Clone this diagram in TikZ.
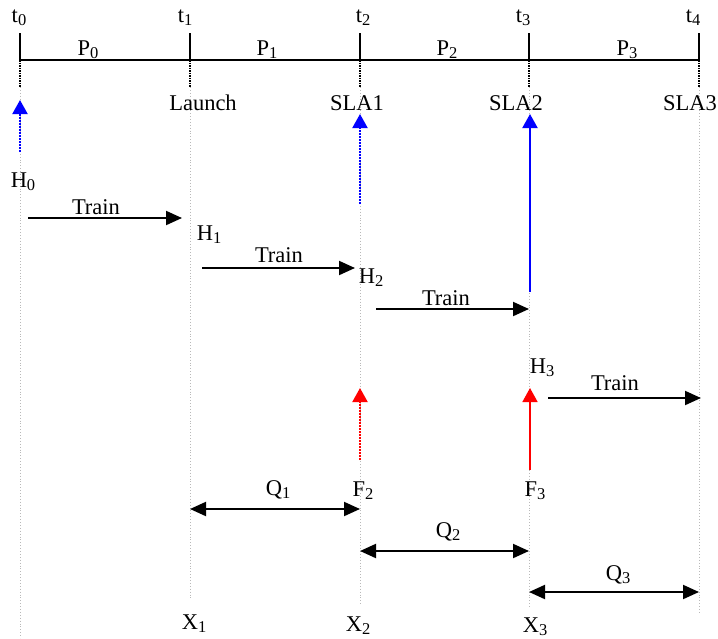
\documentclass[tikz,border=0pt]{standalone}
\usepackage{fontspec}
\setmainfont{Liberation Serif}
\usetikzlibrary{arrows.meta}
% lowered, smaller index after a label letter
\newcommand\idx[1]{\raisebox{-3pt}{\fontsize{16.5}{17}\selectfont #1}}

\begin{document}
\begin{tikzpicture}[x=1pt,y=-1pt,
  txt/.style={font=\fontsize{22.5}{25}\selectfont, inner sep=0pt},
  axis/.style={line width=2pt, black},
  guide/.style={gray!55, dotted, line width=0.9pt},
  stub/.style={black, dash pattern=on 1.5pt off 1pt, line width=1.6pt},
  bigtip/.style={-{Triangle[length=16pt,width=14pt]}},
  train/.style={bigtip, line width=2pt, black},
  span/.style={{Triangle[length=16pt,width=14pt]}-{Triangle[length=16pt,width=14pt]}, line width=2pt, black},
  coltip/.style={-{Triangle[length=14pt,width=15pt]}, line width=2pt},
  bluedot/.style={coltip, blue, dash pattern=on 2pt off 1pt},
  blueline/.style={coltip, blue},
  reddot/.style={coltip, red, dash pattern=on 2pt off 1pt},
  redline/.style={coltip, red, line width=1.6pt}
]
\useasboundingbox (0,0) rectangle (718,638);

% timeline anchor points
\coordinate (a0) at (20,60);
\coordinate (a1) at (190,60);
\coordinate (a2) at (360,60);
\coordinate (a3) at (529,60);
\coordinate (a4) at (699,60);
\coordinate (k0) at (20,33);
\coordinate (k1) at (190,33);
\coordinate (k2) at (360,33);
\coordinate (k3) at (529,33);
\coordinate (k4) at (699,33);
\coordinate (s0) at (20,87);
\coordinate (s1) at (190,87);
\coordinate (s2) at (360,87);
\coordinate (s3) at (529,87);
\coordinate (s4) at (699,87);

% light guide lines running down from each instant
\draw[guide] (s0) -- (20,638);
\draw[guide] (s1) -- (190,600);
\draw[guide] (s2) -- (360,606);
\draw[guide] (s3) -- (529,608);
\draw[guide] (s4) -- (699,612);

% short dotted stubs under the axis
\foreach \i in {0,...,4} { \draw[stub] (a\i) -- (s\i); }

% time axis with ticks
\draw[axis] (a0) -- (a4);
\foreach \i in {0,...,4} { \draw[axis] (k\i) -- (a\i); }

% instant labels
\node[txt] (t0) at (19,18) {t\idx{0}};
\node[txt] (t1) at (185,18) {t\idx{1}};
\node[txt] (t2) at (363,18) {t\idx{2}};
\node[txt] (t3) at (523,18) {t\idx{3}};
\node[txt] (t4) at (693,18) {t\idx{4}};

% period labels
\node[txt] (p0) at (88,50) {P\idx{0}};
\node[txt] (p1) at (267,50) {P\idx{1}};
\node[txt] (p2) at (447,50) {P\idx{2}};
\node[txt] (p3) at (627,50) {P\idx{3}};

% milestone labels
\node[txt] (launch) at (203,103) {Launch};
\node[txt] (sla1) at (357,103) {SLA1};
\node[txt] (sla2) at (516,103) {SLA2};
\node[txt] (sla3) at (690,103) {SLA3};

% blue arrows up to the milestones
\coordinate (b0s) at (20,152);  \coordinate (b0e) at (20,100);
\coordinate (b2s) at (360,204); \coordinate (b2e) at (360,114);
\coordinate (b3s) at (530,292); \coordinate (b3e) at (530,114);
\draw[bluedot] (b0s) -- (b0e);
\draw[bluedot] (b2s) -- (b2e);
\draw[blueline] (b3s) -- (b3e);

% model labels
\node[txt] (h0) at (23,182) {H\idx{0}};
\node[txt] (h1) at (209,235) {H\idx{1}};
\node[txt] (h2) at (371,278) {H\idx{2}};
\node[txt] (h3) at (542,368) {H\idx{3}};

% training arrows
\coordinate (r1s) at (28,218);  \coordinate (r1e) at (182,218);
\coordinate (r2s) at (202,268); \coordinate (r2e) at (355,268);
\coordinate (r3s) at (376,309); \coordinate (r3e) at (529,309);
\coordinate (r4s) at (548,398); \coordinate (r4e) at (701,398);
\draw[train] (r1s) -- (r1e);
\draw[train] (r2s) -- (r2e);
\draw[train] (r3s) -- (r3e);
\draw[train] (r4s) -- (r4e);
\node[txt] (tr1) at (96,207) {Train};
\node[txt] (tr2) at (279,255) {Train};
\node[txt] (tr3) at (446,298) {Train};
\node[txt] (tr4) at (615,383) {Train};

% red arrows from the F points
\coordinate (f2s) at (360,460); \coordinate (f2e) at (360,388);
\coordinate (f3s) at (530,470); \coordinate (f3e) at (530,388);
\draw[reddot] (f2s) -- (f2e);
\draw[redline] (f3s) -- (f3e);
\node[txt] (f2) at (363,491) {F\idx{2}};
\node[txt] (f3) at (535,491) {F\idx{3}};

% interval spans
\coordinate (q1s) at (190,509); \coordinate (q1e) at (360,509);
\coordinate (q2s) at (360,551); \coordinate (q2e) at (529,551);
\coordinate (q3s) at (529,592); \coordinate (q3e) at (699,592);
\draw[span] (q1s) -- (q1e);
\draw[span] (q2s) -- (q2e);
\draw[span] (q3s) -- (q3e);
\node[txt] (q1) at (278,490) {Q\idx{1}};
\node[txt] (q2) at (448,532) {Q\idx{2}};
\node[txt] (q3) at (618,575) {Q\idx{3}};

% bottom labels
\node[txt] (x1) at (194,624) {X\idx{1}};
\node[txt] (x2) at (358,626) {X\idx{2}};
\node[txt] (x3) at (535,627) {X\idx{3}};
\end{tikzpicture}
\end{document}
